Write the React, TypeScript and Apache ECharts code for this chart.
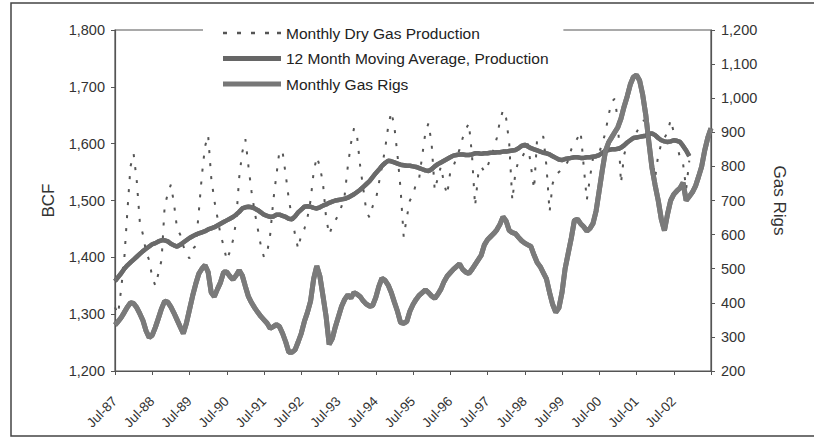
import React, { useEffect, useRef } from "react";
import * as echarts from "echarts";

// Monthly categories from Jul-87 to Jul-03
const monthNames = ["Jan", "Feb", "Mar", "Apr", "May", "Jun", "Jul", "Aug", "Sep", "Oct", "Nov", "Dec"];
const categories: string[] = [];
for (let i = 0; i <= 192; i++) {
  const m = (6 + i) % 12;
  const y = 1987 + Math.floor((6 + i) / 12);
  categories.push(`${monthNames[m]}-${String(y % 100).padStart(2, "0")}`);
}

// Monthly dry gas production, BCF (Jul-87 .. Dec-02)
const production = [
  1312, 1300, 1345, 1398, 1482, 1560, 1582, 1535, 1462, 1440, 1410, 1395,
  1365, 1350, 1372, 1395, 1490, 1512, 1528, 1495, 1450, 1440, 1420, 1405,
  1398, 1415, 1420, 1480, 1545, 1595, 1615, 1540, 1500, 1470, 1440, 1420,
  1395, 1410, 1430, 1462, 1540, 1585, 1608, 1560, 1515, 1480, 1450, 1420,
  1400, 1408, 1440, 1500, 1545, 1588, 1585, 1545, 1502, 1470, 1440, 1415,
  1440, 1450, 1470, 1500, 1550, 1577, 1560, 1530, 1470, 1440, 1455, 1465,
  1475, 1490, 1510, 1560, 1600, 1627, 1612, 1560, 1520, 1480, 1470, 1490,
  1500, 1530, 1560, 1590, 1630, 1656, 1630, 1580, 1520, 1436, 1470, 1500,
  1510, 1530, 1540, 1580, 1620, 1636, 1600, 1518, 1540, 1560, 1530, 1510,
  1550, 1560, 1575, 1590, 1610, 1625, 1636, 1580, 1490, 1545, 1560, 1550,
  1560, 1575, 1590, 1610, 1640, 1659, 1645, 1600, 1500, 1550, 1570, 1575,
  1585, 1600, 1560, 1520, 1610, 1615, 1612, 1560, 1480, 1530, 1545, 1550,
  1555, 1560, 1570, 1590, 1600, 1610, 1621, 1560, 1501, 1540, 1575, 1580,
  1585, 1600, 1620, 1650, 1674, 1679, 1640, 1530, 1580, 1600, 1610, 1615,
  1620, 1630, 1640, 1642, 1600, 1571, 1540, 1580, 1600, 1610, 1620, 1642,
  1620, 1600, 1575, 1565, 1520, 1570,
];

// 12 month moving average of production, BCF
const movingAverage = [
  1358, 1365, 1372, 1380, 1386, 1391, 1396, 1401, 1406, 1411, 1415, 1419,
  1423, 1425, 1428, 1430, 1430, 1428, 1424, 1421, 1419, 1422, 1426, 1430,
  1434, 1437, 1440, 1442, 1444, 1446, 1449, 1451, 1453, 1456, 1459, 1462,
  1465, 1468, 1471, 1475, 1480, 1486, 1488, 1489, 1488, 1486, 1483, 1479,
  1475, 1473, 1471, 1472, 1475, 1475, 1473, 1471, 1468, 1467, 1472, 1479,
  1484, 1489, 1490, 1489, 1487, 1486, 1488, 1491, 1493, 1496, 1498, 1500,
  1501, 1502, 1503, 1505, 1508, 1511, 1515, 1519, 1524, 1529, 1534, 1541,
  1548, 1554, 1561, 1566, 1570, 1569, 1567, 1565, 1563, 1562, 1561, 1561,
  1560, 1559, 1557, 1555, 1553, 1552, 1555, 1560, 1564, 1567, 1570, 1573,
  1576, 1579, 1580, 1581, 1581, 1580, 1580, 1581, 1583, 1583, 1582, 1583,
  1583, 1584, 1584, 1585, 1585, 1586, 1586, 1587, 1588, 1589, 1592, 1596,
  1598, 1595, 1592, 1590, 1588, 1586, 1584, 1583, 1581, 1578, 1575, 1572,
  1571, 1573, 1574, 1575, 1576, 1576, 1575, 1575, 1576, 1576, 1577, 1578,
  1580, 1584, 1587, 1589, 1590, 1590, 1591, 1593, 1597, 1602, 1606, 1610,
  1611, 1612, 1613, 1614, 1617, 1618, 1615, 1610, 1606, 1604, 1603, 1604,
  1606, 1605, 1603, 1596, 1588, 1578,
];

// Monthly gas rigs (Jul-87 .. Jul-03)
const gasRigs = [
  335, 345, 357, 372, 388, 400, 398, 386, 368, 348, 318, 298,
  305, 328, 355, 383, 405, 402, 388, 370, 350, 330, 310, 340,
  380, 420, 455, 485, 500, 510, 490, 430, 418, 440, 460, 490,
  490, 478, 468, 480, 495, 480, 448, 418, 400, 385, 372, 360,
  350, 340, 325, 330, 336, 330, 310, 285, 255, 255, 262, 285,
  310, 345, 372, 405, 470, 508, 478, 420, 360, 278, 295, 330,
  360, 390, 410, 423, 414, 430, 425, 418, 405, 396, 390, 392,
  415, 448, 472, 466, 452, 430, 402, 375, 342, 340, 345, 375,
  395, 410, 422, 430, 438, 430, 420, 413, 425, 440, 462, 478,
  488, 498, 506, 514, 498, 490, 486, 498, 512, 526, 540, 570,
  585, 594, 603, 614, 630, 652, 640, 612, 606, 603, 592, 582,
  575, 570, 565, 540, 518, 506, 488, 470, 430, 395, 372, 385,
  430, 500, 545, 590, 642, 645, 632, 623, 610, 618, 633, 670,
  730, 790, 845, 870, 885, 900, 915, 940, 975, 1005, 1040, 1062,
  1068, 1052, 1010, 950, 870, 795, 745, 700, 645, 612, 660, 700,
  718, 728, 736, 752, 700, 712, 724, 742, 770, 800, 848, 885,
  912,
];

const bcfTicks = { min: 1200, max: 1800, interval: 100 };
const rigTicks = { min: 200, max: 1200, interval: 100 };

const FONT = "Liberation Sans, Arial, sans-serif";

// legend icons (thick line / small dashes)
const thickIcon = "path://M0,0H58V5H0Z";
const dashIcon =
  "path://M0,0h4v2.5h-4z M14,0h4v2.5h-4z M28,0h4v2.5h-4z M42,0h4v2.5h-4z M54,0h4v2.5h-4z";

export default function App() {
  const ref = useRef<HTMLDivElement>(null);
  useEffect(() => {
    if (!ref.current) return;
    const chart = echarts.init(ref.current, undefined, { renderer: "svg" });
    const fmt = (v: number) => v.toLocaleString("en-US");
    chart.setOption({
      animation: false,
      backgroundColor: "#ffffff",
      grid: {
        left: 115,
        right: 103,
        top: 30,
        bottom: 69,
        show: true,
        borderColor: "#555",
        borderWidth: 1.2,
        backgroundColor: "transparent",
      },
      legend: {
        data: [
          { name: "Monthly Dry Gas Production", icon: dashIcon },
          { name: "12 Month Moving Average, Production", icon: thickIcon },
          { name: "Monthly Gas Rigs", icon: thickIcon },
        ],
        orient: "vertical",
        left: 203,
        top: 21,
        itemWidth: 58,
        itemHeight: 14,
        itemGap: 9.5,
        symbolKeepAspect: true,
        padding: [4, 14, 6, 20],
        backgroundColor: "#ffffff",
        selectedMode: false,
        textStyle: { fontSize: 15.5, color: "#222", fontFamily: FONT, lineHeight: 16 },
      },
      xAxis: {
        type: "category",
        data: categories,
        boundaryGap: false,
        axisLine: { lineStyle: { color: "#555", width: 1.2 } },
        axisTick: {
          interval: (i: number) => i % 12 === 0,
          length: 4,
          lineStyle: { color: "#555" },
        },
        axisLabel: {
          interval: (i: number) => i % 12 === 0 && i < 192,
          rotate: 45,
          fontSize: 13.5,
          color: "#333",
          fontFamily: FONT,
          margin: 28,
        },
        splitLine: { show: false },
      },
      yAxis: [
        {
          type: "value",
          ...bcfTicks,
          position: "left",
          name: "BCF",
          nameLocation: "middle",
          nameGap: 58,
          nameRotate: 90,
          nameTextStyle: { fontSize: 17, color: "#333", fontFamily: FONT },
          axisLine: { show: true, lineStyle: { color: "#555", width: 1.2 } },
          axisTick: { show: true, length: 4, lineStyle: { color: "#555" } },
          axisLabel: { formatter: fmt, fontSize: 14.5, color: "#333", fontFamily: FONT, margin: 10 },
          splitLine: { show: false },
        },
        {
          type: "value",
          ...rigTicks,
          position: "right",
          name: "Gas Rigs",
          nameLocation: "middle",
          nameGap: 60,
          nameRotate: -90,
          nameTextStyle: { fontSize: 17, color: "#333", fontFamily: FONT },
          axisLine: { show: true, lineStyle: { color: "#555", width: 1.2 } },
          axisTick: { show: true, length: 4, lineStyle: { color: "#555" } },
          axisLabel: { formatter: fmt, fontSize: 14.5, color: "#333", fontFamily: FONT, margin: 10 },
          splitLine: { show: false },
        },
      ],
      series: [
        {
          name: "Monthly Dry Gas Production",
          type: "line",
          yAxisIndex: 0,
          data: production,
          symbol: "none",
          itemStyle: { color: "#555" },
          lineStyle: { color: "#555", width: 2, type: [3, 10] },
          z: 2,
        },
        {
          name: "12 Month Moving Average, Production",
          type: "line",
          yAxisIndex: 0,
          data: movingAverage,
          symbol: "none",
          itemStyle: { color: "#666" },
          lineStyle: { color: "#6a6a6a", width: 4.5, shadowColor: "rgba(0,0,0,0.7)", shadowBlur: 1.5 },
          z: 3,
        },
        {
          name: "Monthly Gas Rigs",
          type: "line",
          yAxisIndex: 1,
          data: gasRigs,
          symbol: "none",
          itemStyle: { color: "#777" },
          lineStyle: { color: "#7a7a7a", width: 5, shadowColor: "rgba(0,0,0,0.7)", shadowBlur: 1.5 },
          z: 4,
        },
      ],
      graphic: [
        {
          type: "rect",
          shape: { x: 11, y: 3, width: 812, height: 433 },
          style: { fill: "none", stroke: "#444", lineWidth: 1.5 },
          silent: true,
        },
      ],
    });
    return () => chart.dispose();
  }, []);
  return (
    <div
      ref={ref}
      style={{ position: "fixed", left: 0, top: 0, width: 814, height: 440, background: "#fff" }}
    />
  );
}
